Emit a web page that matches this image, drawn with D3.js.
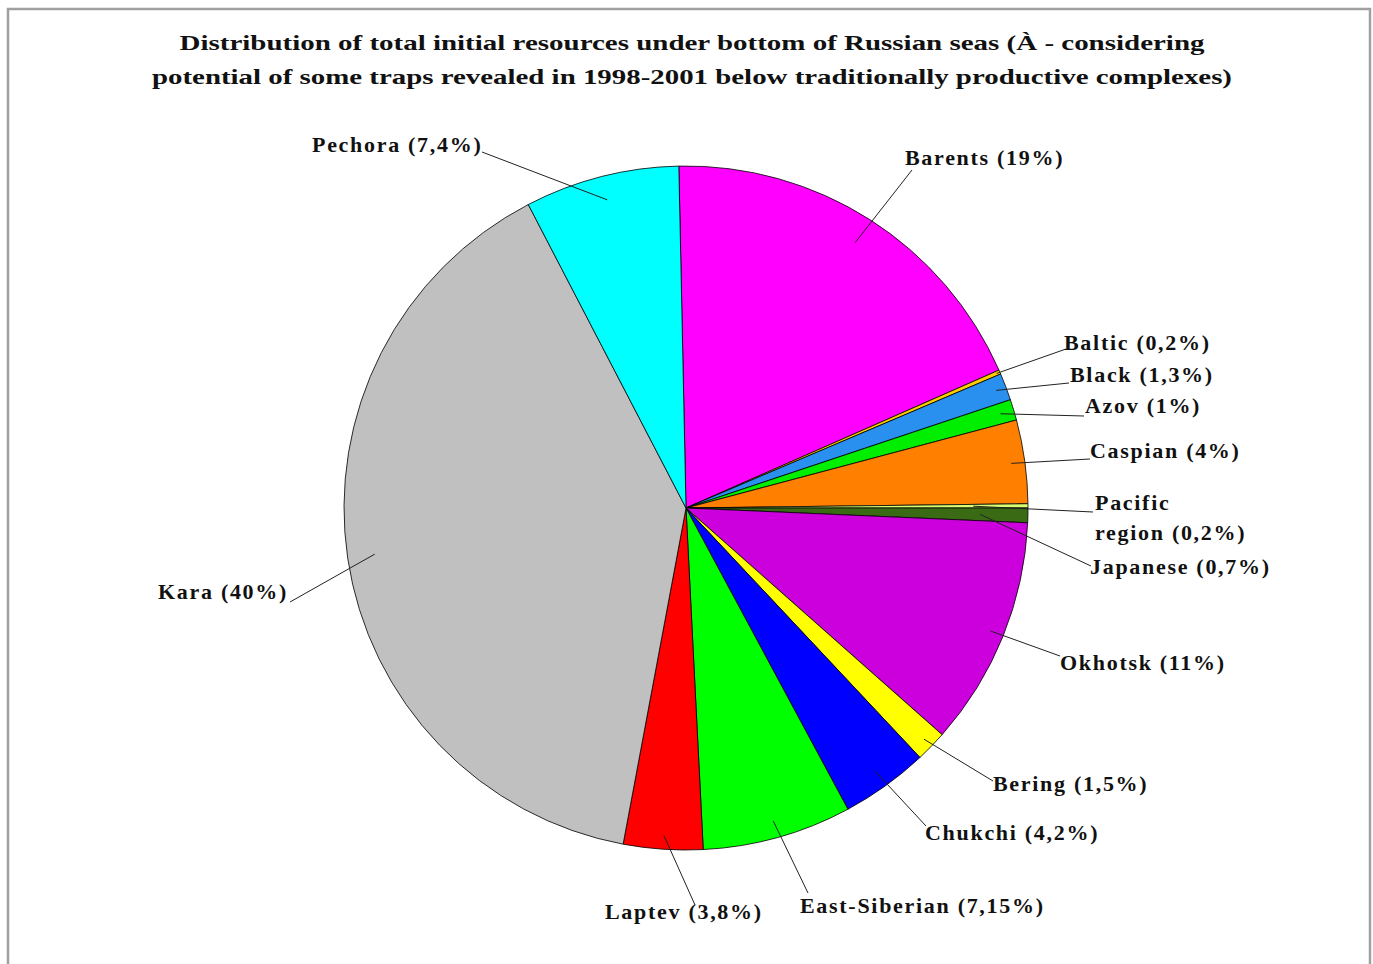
<!DOCTYPE html>
<html>
<head>
<meta charset="utf-8">
<script src="https://cdn.jsdelivr.net/npm/d3@7/dist/d3.min.js"></script>
<style>
  html, body { margin: 0; padding: 0; background: #fff; }
  svg text { font-family: "Liberation Serif", "Times New Roman", serif; font-weight: bold; fill: #111; }
</style>
</head>
<body>
<svg id="chart" width="1373" height="964"></svg>
<script>
// Data
const seas = ["Barents", "Baltic", "Black", "Azov", "Caspian", "Pacific region", "Japanese",
  "Okhotsk", "Bering", "Chukchi", "East-Siberian", "Laptev", "Kara", "Pechora"];
const shares = [19, 0.2, 1.3, 1, 4, 0.2, 0.7, 11, 1.5, 4.2, 7.15, 3.8, 40, 7.4];
const shareText = ["19%", "0,2%", "1,3%", "1%", "4%", "0,2%", "0,7%", "11%", "1,5%", "4,2%", "7,15%", "3,8%", "40%", "7,4%"];
const colors = ["#ff00ff", "#ffcc00", "#2a90f0", "#00ee00", "#ff7f00", "#d8ff70", "#3a6a14",
  "#cc00dd", "#ffff00", "#0000ff", "#00ff00", "#ff0000", "#c0c0c0", "#00ffff"];

const titleLines = [
  "Distribution of total initial resources under bottom of Russian seas (\u00C0 - considering",
  "potential of some traps revealed in 1998-2001 below traditionally productive complexes)"
];

// Layout for labels: text anchor point and where the leader line meets the label
const labelAt = [[905, 165], [1064, 350], [1070, 382], [1085, 413], [1090, 458], [1095, 510],
  [1090, 574], [1060, 670], [993, 791], [925, 840], [800, 913], [605, 919], [158, 599], [312, 152]];
const lineAt = [[912, 170], [1066, 349], [1069, 383], [1084, 416], [1090, 459], [1093, 512],
  [1091, 566], [1060, 656], [993, 781], [926, 826], [808, 893], [695, 905], [290, 602], [482, 152]];
// how deep each leader line reaches into its slice (share of radius)
const leaderDepth = [0.92, 0.99, 0.97, 0.96, 0.96, 0.84, 0.86, 0.96, 0.97, 0.95, 0.95, 0.96, 0.92, 0.93];

const svg = d3.select("#chart");
const cx = 686, cy = 508, r = 342;

// frame
svg.append("rect")
  .attr("x", 8).attr("y", 9).attr("width", 1362).attr("height", 980)
  .attr("fill", "#fff").attr("stroke", "#a0a0a0").attr("stroke-width", 2.5);

// title
svg.selectAll("text.title")
  .data(titleLines)
  .join("text")
  .attr("class", "title")
  .attr("x", 692)
  .attr("y", (d, i) => 50 + i * 34)
  .attr("text-anchor", "middle")
  .attr("font-size", 22)
  .attr("textLength", (d, i) => i === 0 ? 1025 : 1080)
  .attr("lengthAdjust", "spacingAndGlyphs")
  .text(d => d);

const pie = d3.pie().sort(null).startAngle(-0.021).endAngle(2 * Math.PI - 0.021);
const arcs = pie(shares);
const arc = d3.arc().innerRadius(0).outerRadius(r);

const g = svg.append("g").attr("transform", `translate(${cx},${cy})`);

g.selectAll("path")
  .data(arcs)
  .join("path")
  .attr("d", arc)
  .attr("fill", (d, i) => colors[i])
  .attr("stroke", "#000")
  .attr("stroke-width", 0.8);

// leader lines
function innerPoint(d, i) {
  const a = (d.startAngle + d.endAngle) / 2;
  const rr = r * leaderDepth[i];
  return [cx + rr * Math.sin(a), cy - rr * Math.cos(a)];
}
svg.append("g")
  .selectAll("line")
  .data(arcs)
  .join("line")
  .attr("x1", (d, i) => lineAt[i][0])
  .attr("y1", (d, i) => lineAt[i][1])
  .attr("x2", (d, i) => innerPoint(d, i)[0])
  .attr("y2", (d, i) => innerPoint(d, i)[1])
  .attr("stroke", "#222")
  .attr("stroke-width", 1);

// labels
const labels = svg.append("g")
  .selectAll("text")
  .data(arcs)
  .join("text")
  .attr("x", (d, i) => labelAt[i][0])
  .attr("y", (d, i) => labelAt[i][1])
  .attr("font-size", 22)
  .attr("letter-spacing", 1.7);

labels.each(function(d, i) {
  const t = d3.select(this);
  if (seas[i] === "Pacific region") {
    t.append("tspan").attr("x", labelAt[i][0]).attr("dy", 0).text("Pacific");
    t.append("tspan").attr("x", labelAt[i][0]).attr("dy", 30).text(`region (${shareText[i]})`);
  } else {
    t.text(`${seas[i]} (${shareText[i]})`);
  }
});
</script>
</body>
</html>
